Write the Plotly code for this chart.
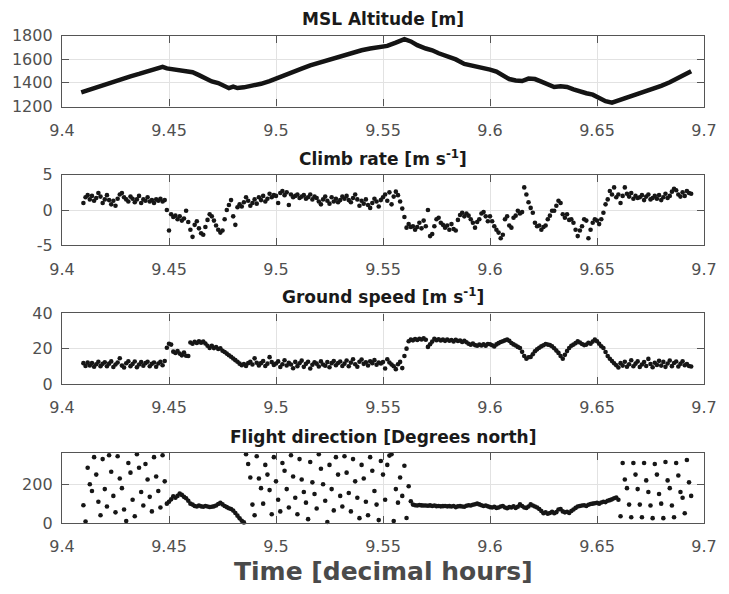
import plotly.graph_objects as go

# ---------------- data ----------------
# altitude track (line)
alt_time = [9.409, 9.412, 9.416, 9.420, 9.424, 9.428, 9.432, 9.436, 9.440, 9.444,
            9.447, 9.449, 9.452, 9.455, 9.458, 9.461, 9.464, 9.467, 9.470, 9.473,
            9.476, 9.478, 9.480, 9.482, 9.485, 9.489, 9.493, 9.497, 9.500, 9.504,
            9.508, 9.512, 9.516, 9.520, 9.524, 9.528, 9.532, 9.536, 9.540, 9.544,
            9.548, 9.552, 9.556, 9.560, 9.563, 9.566, 9.570, 9.573, 9.576, 9.580,
            9.584, 9.588, 9.592, 9.596, 9.600, 9.603, 9.606, 9.609, 9.612, 9.615,
            9.618, 9.621, 9.624, 9.627, 9.630, 9.633, 9.636, 9.639, 9.642, 9.645,
            9.648, 9.651, 9.654, 9.657, 9.660, 9.664, 9.668, 9.672, 9.676, 9.680,
            9.684, 9.688, 9.692, 9.694]
altitude = [1320, 1338, 1362, 1392, 1408, 1430, 1455, 1475, 1497, 1515,
            1535, 1522, 1515, 1505, 1496, 1490, 1465, 1440, 1412, 1398,
            1372, 1355, 1368, 1356, 1362, 1375, 1392, 1415, 1438, 1460,
            1490, 1520, 1548, 1570, 1590, 1608, 1630, 1655, 1675, 1690,
            1700, 1712, 1740, 1770, 1750, 1718, 1690, 1675, 1650, 1628,
            1598, 1560, 1545, 1535, 1512, 1495, 1465, 1432, 1420, 1415,
            1436, 1432, 1410, 1385, 1365, 1370, 1365, 1345, 1325, 1312,
            1300, 1275, 1245, 1232, 1250, 1280, 1300, 1328, 1350, 1375,
            1405, 1440, 1480, 1498]

# GPS fix times [decimal hours]
fix_time = [
    9.410, 9.411, 9.412, 9.413, 9.414, 9.415, 9.416, 9.417, 9.418, 9.419,
    9.420, 9.421, 9.422, 9.423, 9.424, 9.425, 9.426, 9.427, 9.428, 9.429,
    9.430, 9.431, 9.432, 9.433, 9.434, 9.435, 9.436, 9.437, 9.438, 9.439,
    9.440, 9.441, 9.442, 9.443, 9.444, 9.445, 9.446, 9.447, 9.448, 9.449,
    9.450, 9.451, 9.452, 9.453, 9.454, 9.455, 9.456, 9.457, 9.458, 9.459,
    9.460, 9.461, 9.462, 9.463, 9.464, 9.465, 9.466, 9.467, 9.468, 9.469,
    9.470, 9.471, 9.472, 9.473, 9.474, 9.475, 9.476, 9.477, 9.478, 9.479,
    9.480, 9.481, 9.482, 9.483, 9.484, 9.485, 9.486, 9.487, 9.488, 9.489,
    9.490, 9.491, 9.492, 9.493, 9.494, 9.495, 9.496, 9.497, 9.498, 9.499,
    9.500, 9.501, 9.502, 9.503, 9.504, 9.505, 9.506, 9.507, 9.508, 9.509,
    9.510, 9.511, 9.512, 9.513, 9.514, 9.515, 9.516, 9.517, 9.518, 9.519,
    9.520, 9.521, 9.522, 9.523, 9.524, 9.525, 9.526, 9.527, 9.528, 9.529,
    9.530, 9.531, 9.532, 9.533, 9.534, 9.535, 9.536, 9.537, 9.538, 9.539,
    9.540, 9.541, 9.542, 9.543, 9.544, 9.545, 9.546, 9.547, 9.548, 9.549,
    9.550, 9.551, 9.552, 9.553, 9.554, 9.555, 9.556, 9.557, 9.558, 9.559,
    9.560, 9.561, 9.562, 9.563, 9.564, 9.565, 9.566, 9.567, 9.568, 9.569,
    9.570, 9.571, 9.572, 9.573, 9.574, 9.575, 9.576, 9.577, 9.578, 9.579,
    9.580, 9.581, 9.582, 9.583, 9.584, 9.585, 9.586, 9.587, 9.588, 9.589,
    9.590, 9.591, 9.592, 9.593, 9.594, 9.595, 9.596, 9.597, 9.598, 9.599,
    9.600, 9.601, 9.602, 9.603, 9.604, 9.605, 9.606, 9.607, 9.608, 9.609,
    9.610, 9.611, 9.612, 9.613, 9.614, 9.615, 9.616, 9.617, 9.618, 9.619,
    9.620, 9.621, 9.622, 9.623, 9.624, 9.625, 9.626, 9.627, 9.628, 9.629,
    9.630, 9.631, 9.632, 9.633, 9.634, 9.635, 9.636, 9.637, 9.638, 9.639,
    9.640, 9.641, 9.642, 9.643, 9.644, 9.645, 9.646, 9.647, 9.648, 9.649,
    9.650, 9.651, 9.652, 9.653, 9.654, 9.655, 9.656, 9.657, 9.658, 9.659,
    9.660, 9.661, 9.662, 9.663, 9.664, 9.665, 9.666, 9.667, 9.668, 9.669,
    9.670, 9.671, 9.672, 9.673, 9.674, 9.675, 9.676, 9.677, 9.678, 9.679,
    9.680, 9.681, 9.682, 9.683, 9.684, 9.685, 9.686, 9.687, 9.688, 9.689,
    9.690, 9.691, 9.692, 9.693, 9.694,
]

# climb rate [m/s]
climb_rate = [
    1.0, 1.8, 2.1, 1.5, 2.0, 1.3, 1.7, 2.4, 1.9, 1.0,
    1.5, 2.1, 1.4, 0.8, 1.3, 0.6, 1.6, 2.2, 2.4, 1.8,
    1.5, 1.2, 1.9, 1.6, 1.1, 1.5, 2.0, 1.0, 1.5, 1.3,
    1.8, 1.2, 1.4, 1.0, 1.5, 1.3, 1.6, 1.2, 1.4, 0.0,
    -2.9, -0.6, -1.0, -0.8, -1.3, -0.9, -1.5, -1.2, -0.1, -1.7,
    -2.8, -3.8, -2.1, -1.6, -2.6, -3.3, -3.5, -2.4, -1.4, -0.6,
    -0.9, -1.5, -2.2, -2.8, -3.2, -2.9, -1.3, 0.0, 0.7, 1.4,
    -0.9, -2.1, 0.4, 0.8, 0.5, 1.1, 1.8, 1.3, 0.6, 1.0,
    1.5, 0.9, 1.8, 1.4, 2.0, 1.2, 1.6, 2.3, 1.8, 2.1,
    2.0, 1.0, 2.4, 2.7, 2.1, 2.5, 0.7, 2.2, 1.8, 2.0,
    2.2, 1.7, 1.9, 2.1, 1.6, 1.8, 2.2, 1.5, 1.9, 1.7,
    1.2, 0.8, 1.5, 1.9, 1.3, 0.9, 1.8, 1.2, 1.6, 1.1,
    1.4, 1.9, 1.6, 2.0, 1.4, 1.1, 1.7, 2.2, 1.5, 0.6,
    1.3, 0.9, 1.5, 0.7, 0.3, 1.0, 1.6, 1.2, 0.5, 1.4,
    1.8, 2.2, 1.3, 2.5, 0.8, 1.9, 2.6, 2.1, 1.2, 0.2,
    -1.0, -2.5, -2.0, -2.4, -2.3, -2.8, -2.4, -1.8, -2.6, -1.5,
    -2.3, 0.0, -3.7, -3.4, -2.3, -1.3, -1.1, -1.8, -2.1, -2.5,
    -2.2, -2.8, -2.0, -2.7, -2.9, -1.4, -0.7, -0.4, -0.9, -0.5,
    -0.8, -1.3, -1.8, -2.5, -1.7, -1.3, -0.5, -0.3, -0.9, -1.6,
    -0.9, -1.6, -2.3, -2.8, -3.2, -4.0, -3.5, -1.3, -0.9, -2.2,
    -2.5, -1.1, -0.8, -0.1, -0.5, -0.3, 3.2, 2.2, 1.1, 0.3,
    -0.4, -1.8, -2.3, -2.2, -2.8, -2.4, -2.2, -1.3, -0.8, -0.1,
    -0.1, 0.6, 1.3, 1.0, -0.6, -1.1, -0.6, -1.4, -1.3, -1.8,
    -2.8, -3.7, -2.9, -2.3, -1.3, -1.5, -4.0, -2.8, -1.8, -1.3,
    -1.5, -2.0, -1.3, -0.4, 0.8, 1.5, 2.7, 2.2, 3.2, 1.8,
    2.2, 1.0, 2.0, 3.2, 2.3, 1.9, 2.4, 1.6, 2.0, 1.7,
    1.8, 2.1, 1.4, 1.9, 2.2, 1.5, 1.7, 2.0, 1.6, 2.1,
    1.4, 1.8, 2.3, 1.7, 2.0, 2.6, 3.0, 2.8, 2.2, 1.9,
    2.5, 2.0, 2.7, 2.4, 2.3,
]

# ground speed [m/s]
ground_speed = [
    11.8, 10.2, 12.1, 10.5, 11.9, 9.8, 11.2, 12.6, 10.1, 11.4,
    12.3, 10.0, 11.5, 12.8, 9.6, 11.0, 12.2, 14.6, 10.4, 9.3,
    11.7, 12.9, 10.1, 11.3, 12.7, 9.5, 11.0, 12.4, 10.3, 11.8,
    12.6, 10.0, 11.4, 12.2, 9.8, 11.6, 12.5, 10.6, 13.0, 20.5,
    22.8, 22.3, 18.3, 17.6, 18.6, 17.2, 16.2, 17.8, 16.0, 15.8,
    23.5, 22.8, 23.9, 23.2, 24.1, 23.4, 24.0, 22.9, 21.6, 20.4,
    21.6, 20.3, 20.9, 19.8, 20.2, 18.8, 18.1, 17.2, 16.3, 15.4,
    14.4, 13.5, 12.6, 11.5, 10.6, 11.3, 10.2, 11.8, 12.6, 11.0,
    14.5, 12.0, 10.5, 11.8, 13.0, 10.2, 11.5, 15.2, 12.4, 10.8,
    11.6, 12.8, 9.6, 11.2, 13.4, 10.5, 12.0, 11.0, 8.9, 12.5,
    10.1, 11.7, 13.2, 9.7, 11.4, 12.6, 8.8, 10.9, 12.3, 11.5,
    9.9, 12.8, 11.0, 10.3, 12.4, 9.5, 11.8, 13.0, 10.6, 11.9,
    12.7, 10.2, 11.5, 13.3, 10.0, 12.1, 14.0, 11.2, 9.8, 12.6,
    13.9, 11.4, 12.3, 10.5, 12.9, 11.8, 13.5, 10.9, 12.2, 11.6,
    12.4, 8.8, 14.0, 12.2, 11.0, 10.0, 8.4, 11.2, 12.5, 9.0,
    15.8, 20.0, 24.2, 25.1, 24.7, 25.5, 24.9, 25.6, 25.2, 25.8,
    25.0, 21.0, 22.5, 24.0, 25.6, 24.8, 25.3, 24.6, 25.1, 24.4,
    25.2, 24.5, 24.9, 24.1, 25.0, 24.3, 24.6, 23.8, 24.5, 23.6,
    22.8, 22.2, 22.9, 22.0, 21.6, 22.3, 21.8, 22.4, 21.7, 22.6,
    22.5, 21.9, 21.2, 22.4, 23.1, 23.8, 24.2, 24.7, 25.1, 24.4,
    23.2, 22.4, 21.8, 21.0, 20.4, 18.2, 15.8, 14.3, 15.1, 15.3,
    16.8, 18.5, 19.6, 20.5, 21.3, 21.9, 22.6, 22.3, 22.0, 21.4,
    20.2, 18.9, 17.6, 15.8, 14.3, 16.5, 18.6, 20.4, 21.6, 22.3,
    23.1, 24.2, 23.5, 22.6, 22.0, 22.3, 23.3, 22.8, 24.0, 25.1,
    24.2, 22.8, 21.4, 20.4, 18.1, 15.8, 14.3, 13.0, 11.7, 10.6,
    9.3, 11.8, 10.4, 12.6, 9.8, 11.2, 13.4, 10.0, 11.5, 12.8,
    9.6, 11.0, 12.4, 10.2, 14.2, 11.3, 9.5, 12.0, 10.8, 13.1,
    10.4, 12.5, 9.7, 11.6, 13.3, 10.1, 11.9, 12.7, 9.9, 11.4,
    12.9, 10.6, 11.3, 10.2, 9.9,
]

# flight direction [degrees from north]
heading = [
    92, 8, 285, 200, 165, 340, 250, 110, 40, 330,
    175, 85, 350, 265, 140, 55, 345, 230, 180, 70,
    10, 310, 260, 120, 35, 355, 285, 160, 90, 305,
    225, 135, 60, 340, 240, 165, 80, 350, 215, 100,
    110, 122, 138, 130, 140, 152, 145, 135, 128, 115,
    100, 95, 88, 85, 90, 86, 84, 88, 85, 83,
    84, 86, 90, 98, 104, 96, 88, 82, 76, 72,
    64, 52, 38, 24, 12, 3, 355, 305, 235, 95,
    40, 345, 230, 180, 100, 300, 250, 170, 45, 340,
    215, 120, 60, 310, 270, 175, 80, 350, 240, 130,
    45, 330, 225, 160, 105, 20, 315, 210, 150, 75,
    355, 280, 200, 115, 5, 300, 175, 65, 340, 250,
    140, 85, 345, 260, 155, 60, 330, 215, 130, 25,
    300, 230, 110, 40, 340, 270, 165, 95, 15, 320,
    250, 120, 300, 348, 355, 10, 175, 105, 235, 140,
    296, 26, 190, 112, 95, 92, 90, 93, 91, 90,
    90, 89, 91, 88, 90, 87, 88, 86, 87, 88,
    86, 87, 85, 88, 82, 86, 87, 85, 84, 89,
    92, 90, 94, 97, 100, 96, 92, 88, 90, 86,
    82, 80, 84, 78, 80, 85, 88, 80, 76, 82,
    80, 86, 78, 84, 96, 88, 80, 78, 85, 96,
    90, 85, 80, 72, 62, 50, 55, 48, 52, 58,
    50, 56, 70, 72, 60, 55, 58, 52, 62, 70,
    78, 85, 88, 90, 92, 88, 94, 98, 100, 102,
    104, 100, 106, 110, 108, 115, 118, 122, 128, 132,
    120, 35, 310, 225, 180, 95, 30, 310, 250, 175,
    95, 30, 310, 220, 160, 90, 25, 305, 250, 150,
    100, 25, 315, 220, 180, 90, 30, 310, 245, 160,
    130, 50, 325, 210, 140,
]

assert len(alt_time) == len(altitude)
assert len(fix_time) == len(climb_rate) == len(ground_speed) == len(heading)

time_ticks = [9.4, 9.45, 9.5, 9.55, 9.6, 9.65, 9.7]
time_tick_labels = ["9.4", "9.45", "9.5", "9.55", "9.6", "9.65", "9.7"]

panel_titles = ["MSL Altitude [m]", "Climb rate [m s<sup>-1</sup>]",
                "Ground speed [m s<sup>-1</sup>]", "Flight direction [Degrees north]"]
y_ranges = [[1200, 1800], [-5, 5], [0, 40], [0, 363]]
y_ticks = [[1200, 1400, 1600, 1800], [-5, 0, 5], [0, 20, 40], [0, 200]]
x_label = "Time [decimal hours]"

# ---------------- figure ----------------
W, H = 729, 594
M_L, M_R, M_T, M_B = 59, 15, 35, 71
plot_h = H - M_T - M_B
bottom_px = H - M_B
# panel top/bottom in page pixels
panel_px = [(35.5, 106.5), (174.7, 245.3), (313.3, 384.0), (452.7, 523.3)]
domains = [[max(0, (bottom_px - b) / plot_h), min(1, (bottom_px - t) / plot_h)]
           for t, b in panel_px]

FONT = "DejaVu Sans"
AX_COL = "#555555"
TXT_COL = "#505050"

series = [(alt_time, altitude, "lines"), (fix_time, climb_rate, "markers"),
          (fix_time, ground_speed, "markers"), (fix_time, heading, "markers")]

fig = go.Figure()
for i, (xs, ys, mode) in enumerate(series):
    sfx = "" if i == 0 else str(i + 1)
    fig.add_trace(go.Scatter(
        x=xs, y=ys, mode=mode, xaxis="x" + sfx, yaxis="y" + sfx,
        line=dict(color="#141414", width=4.5),
        marker=dict(size=4.6, color="#161616"),
        cliponaxis=False, showlegend=False, hoverinfo="skip",
    ))

common = dict(showline=True, mirror="ticks", linecolor=AX_COL, linewidth=1.4,
              ticks="inside", ticklen=7, tickwidth=1, tickcolor=AX_COL,
              showgrid=True, gridcolor="#e2e2e2", gridwidth=1, zeroline=False,
              tickfont=dict(family=FONT, size=16, color=TXT_COL))

layout = dict(width=W, height=H, margin=dict(l=M_L, r=M_R, t=M_T, b=M_B),
              paper_bgcolor="white", plot_bgcolor="white", showlegend=False)

annotations = []
for i in range(4):
    sfx = "" if i == 0 else str(i + 1)
    layout["xaxis" + sfx] = dict(common, domain=[0, 1], range=[9.4, 9.7],
                                 anchor="y" + sfx, tickvals=time_ticks,
                                 ticktext=time_tick_labels, ticklabelstandoff=9)
    layout["yaxis" + sfx] = dict(common, domain=domains[i], range=y_ranges[i],
                                 anchor="x" + sfx, tickvals=y_ticks[i],
                                 ticktext=[str(v) for v in y_ticks[i]],
                                 ticklabelstandoff=5)
    annotations.append(dict(
        text="<b>" + panel_titles[i] + "</b>", xref="paper", yref="paper",
        x=0.5, y=domains[i][1], xanchor="center", yanchor="bottom", yshift=4,
        showarrow=False, font=dict(family=FONT, size=17, color="#1a1a1a")))

annotations.append(dict(
    text="<b>" + x_label + "</b>", xref="paper", yref="paper",
    x=0.5, y=0, xanchor="center", yanchor="middle", yshift=-48,
    showarrow=False, font=dict(family=FONT, size=25, color="#4a4a4a")))

layout["annotations"] = annotations
fig.update_layout(**layout)
fig.write_html("out.html")
